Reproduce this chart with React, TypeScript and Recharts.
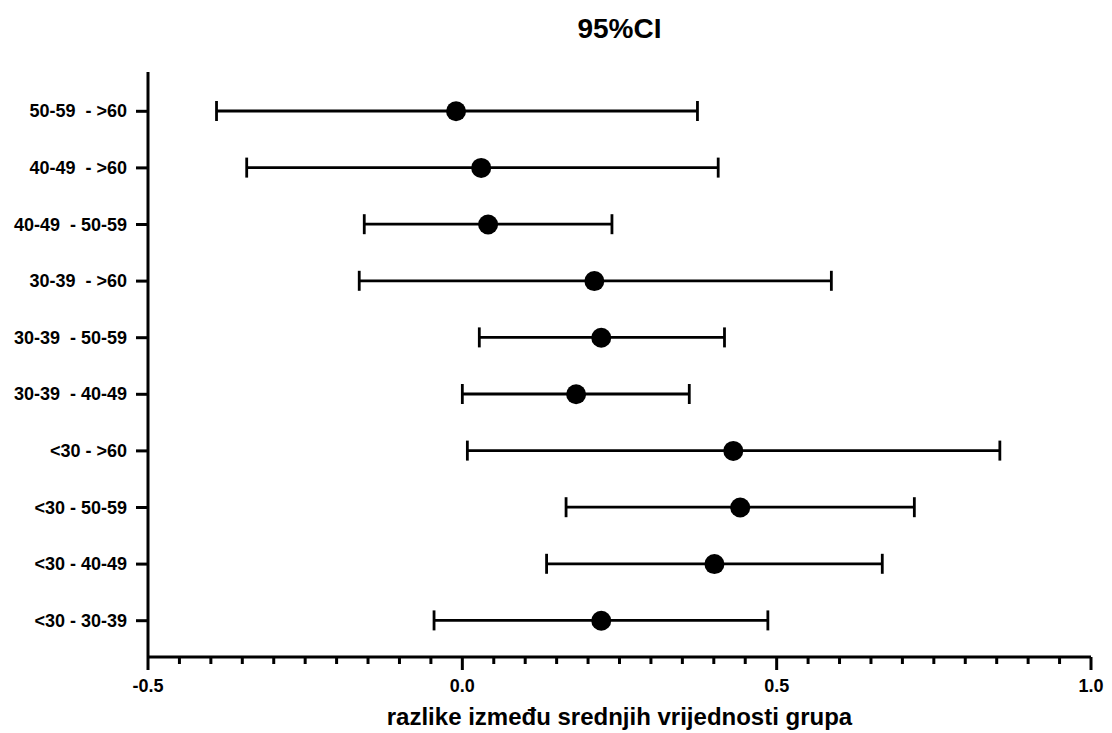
import { ComposedChart, Bar, Line, XAxis, YAxis } from "recharts";

document.body.style.margin = "0";

const comparisons = [
  "50-59  - >60",
  "40-49  - >60",
  "40-49  - 50-59",
  "30-39  - >60",
  "30-39  - 50-59",
  "30-39  - 40-49",
  "<30 - >60",
  "<30 - 50-59",
  "<30 - 40-49",
  "<30 - 30-39",
];
const meanDiff = [-0.01, 0.03, 0.041, 0.21, 0.221, 0.181, 0.431, 0.442, 0.401, 0.221];
const lower = [-0.391, -0.343, -0.156, -0.164, 0.027, 0.0, 0.008, 0.165, 0.134, -0.045];
const upper = [0.374, 0.407, 0.238, 0.587, 0.417, 0.361, 0.855, 0.719, 0.668, 0.486];

const majorTicks = [-0.5, 0, 0.5, 1.0];
const xTicks = Array.from({ length: 31 }, (_, i) => Math.round((-0.5 + i * 0.05) * 100) / 100);

const data = comparisons.map((name, i) => ({
  name,
  mean: meanDiff[i],
  ci: [lower[i], upper[i]],
}));

const FONT = "Arial, 'Liberation Sans', sans-serif";

const isMajor = (v: number) => majorTicks.some((m) => Math.abs(m - v) < 1e-6);

const XTick = ({ x, y, payload }: any) => {
  const major = isMajor(payload.value);
  return (
    <g>
      <line x1={x} x2={x} y1={y} y2={y + (major ? 13 : 7)} stroke="#000" strokeWidth={3} />
      {major && (
        <text x={x} y={y + 35} textAnchor="middle" fontFamily={FONT} fontWeight="bold" fontSize={18} fill="#000">
          {payload.value.toFixed(1)}
        </text>
      )}
    </g>
  );
};

const YTick = ({ x, y, payload }: any) => (
  <text
    x={x}
    y={y}
    dy={6}
    textAnchor="end"
    fontFamily={FONT}
    fontWeight="bold"
    fontSize={18}
    fill="#000"
    style={{ whiteSpace: "pre" }}
  >
    {payload.value}
  </text>
);

const Whisker = (props: any) => {
  const { x, y, width, height } = props;
  const x1 = Math.min(x, x + width);
  const x2 = Math.max(x, x + width);
  const cy = y + height / 2;
  return (
    <g stroke="#000" strokeWidth={2.8}>
      <line x1={x1} x2={x2} y1={cy} y2={cy} />
      <line x1={x1} x2={x1} y1={cy - 10} y2={cy + 10} />
      <line x1={x2} x2={x2} y1={cy - 10} y2={cy + 10} />
    </g>
  );
};

export default function App() {
  return (
    <div style={{ position: "relative", width: 1112, height: 733 }}>
      <div
        style={{
          position: "absolute",
          top: 13,
          left: 148,
          width: 943,
          textAlign: "center",
          fontFamily: FONT,
          fontWeight: "bold",
          fontSize: 28,
        }}
      >
        95%CI
      </div>
      <ComposedChart
        width={1112}
        height={733}
        data={data}
        layout="vertical"
        margin={{ top: 72, right: 21, bottom: 16, left: 0 }}
      >
        <XAxis
          type="number"
          domain={[-0.5, 1.0]}
          ticks={xTicks}
          interval={0}
          tick={<XTick />}
          tickLine={false}
          tickSize={0}
          tickMargin={0}
          axisLine={{ stroke: "#000", strokeWidth: 3 }}
          height={60}
          allowDataOverflow
          label={{
            value: "razlike između srednjih vrijednosti grupa",
            position: "insideBottom",
            offset: -8,
            style: { fontFamily: FONT, fontWeight: "bold", fontSize: 24, fill: "#000" },
          }}
        />
        <YAxis
          type="category"
          dataKey="name"
          width={148}
          tick={<YTick />}
          tickLine={{ stroke: "#000", strokeWidth: 3 }}
          tickSize={12}
          tickMargin={9}
          axisLine={{ stroke: "#000", strokeWidth: 3 }}
          padding={{ top: 11, bottom: 8 }}
        />
        <Bar dataKey="ci" barSize={20} shape={<Whisker />} isAnimationActive={false} />
        <Line
          dataKey="mean"
          stroke="none"
          dot={{ r: 10, fill: "#000", stroke: "none" }}
          activeDot={false}
          isAnimationActive={false}
        />
      </ComposedChart>
    </div>
  );
}
